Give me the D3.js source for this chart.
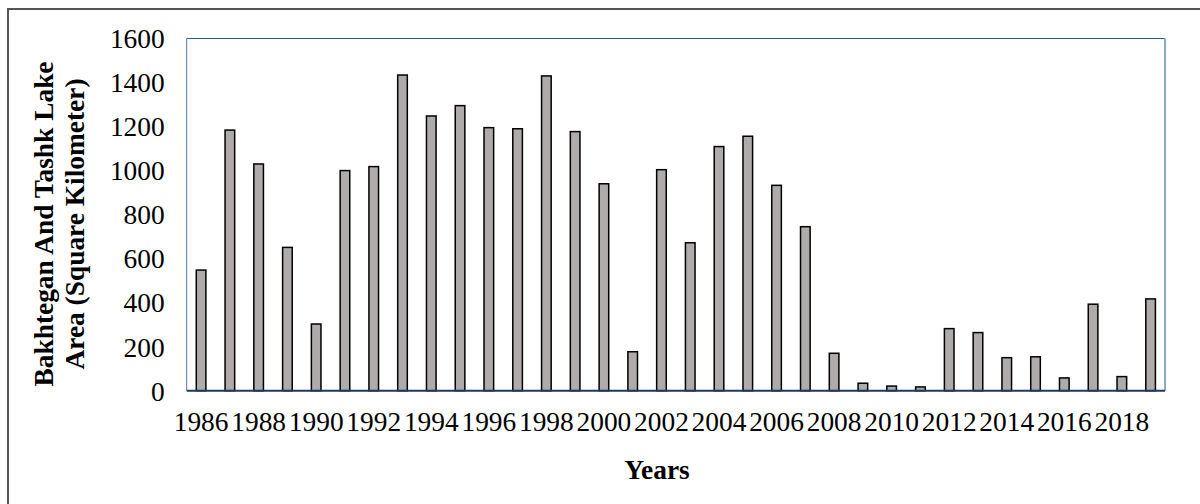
<!DOCTYPE html>
<html>
<head>
<meta charset="utf-8">
<script src="https://cdn.jsdelivr.net/npm/d3@7"></script>
<style>
  body { margin: 0; background: #fff; }
  text { font-family: "Liberation Serif", "Times New Roman", serif; fill: #000; }
</style>
</head>
<body>
<div id="chart"></div>
<script>
// Lake area per year (km²)
const years = [1986, 1987, 1988, 1989, 1990, 1991, 1992, 1993, 1994, 1995,
  1996, 1997, 1998, 1999, 2000, 2001, 2002, 2003, 2004, 2005,
  2006, 2007, 2008, 2009, 2010, 2011, 2012, 2013, 2014, 2015,
  2016, 2017, 2018, 2019];
const areas = [548, 1184, 1030, 651, 303, 1000, 1018, 1434, 1248, 1295,
  1195, 1190, 1430, 1177, 940, 177, 1004, 672, 1109, 1156,
  933, 745, 170, 34, 21, 17, 282, 264, 150, 154,
  58, 393, 64, 417];
const yTicks = [0, 200, 400, 600, 800, 1000, 1200, 1400, 1600];
const xTickYears = years.filter(y => (y - 1986) % 2 === 0 && y < 2019);

const width = 1200, height = 504;
const plot = { left: 186.7, right: 1165, top: 38.5, bottom: 390.7 };
const fontSize = 27.4;

const svg = d3.select('#chart').append('svg')
  .attr('width', width)
  .attr('height', height);

// Outer frame (only top and left edges are visible in the crop)
svg.append('rect')
  .attr('x', 8).attr('y', 9)
  .attr('width', 1300).attr('height', 600)
  .attr('fill', 'none')
  .attr('stroke', '#555')
  .attr('stroke-width', 2);

const x = d3.scaleBand()
  .domain(years)
  .range([plot.left, plot.right])
  .paddingInner(0.666)
  .paddingOuter(0.333);

const y = d3.scaleLinear()
  .domain([0, 1600])
  .range([plot.bottom, plot.top]);

// Plot area border
svg.append('line')
  .attr('x1', plot.left).attr('x2', plot.right)
  .attr('y1', plot.top).attr('y2', plot.top)
  .attr('stroke', '#2e5c8a').attr('stroke-width', 1.2);
svg.append('line')
  .attr('x1', plot.left).attr('x2', plot.left)
  .attr('y1', plot.top).attr('y2', plot.bottom)
  .attr('stroke', '#4f7bab').attr('stroke-width', 1);
svg.append('line')
  .attr('x1', plot.right).attr('x2', plot.right)
  .attr('y1', plot.top).attr('y2', plot.bottom)
  .attr('stroke', '#8ea9c8').attr('stroke-width', 2);

// Bars
svg.selectAll('.bar')
  .data(years)
  .enter()
  .append('rect')
  .attr('class', 'bar')
  .attr('x', d => x(d))
  .attr('y', (d, i) => y(areas[i]))
  .attr('width', x.bandwidth())
  .attr('height', (d, i) => y(0) - y(areas[i]))
  .attr('fill', '#afabab')
  .attr('stroke', '#000')
  .attr('stroke-width', 1.5);

// Baseline
svg.append('line')
  .attr('x1', plot.left).attr('x2', plot.right)
  .attr('y1', plot.bottom).attr('y2', plot.bottom)
  .attr('stroke', '#1f3864').attr('stroke-width', 2);

// Y tick labels
const yAxis = d3.axisLeft(y)
  .tickValues(yTicks)
  .tickFormat(d3.format('d'))
  .tickSize(0)
  .tickPadding(22);
svg.append('g')
  .attr('transform', `translate(${plot.left},0)`)
  .call(yAxis)
  .call(g => g.select('.domain').remove())
  .selectAll('text')
  .attr('font-family', '"Liberation Serif", "Times New Roman", serif')
  .attr('font-size', fontSize)
  .attr('fill', '#000')
  .attr('dy', '0.34em');

// X tick labels
const xAxis = d3.axisBottom(x).tickValues(xTickYears).tickSize(0).tickPadding(0);
svg.append('g')
  .attr('transform', `translate(0,${plot.bottom})`)
  .call(xAxis)
  .call(g => g.select('.domain').remove())
  .selectAll('text')
  .attr('font-family', '"Liberation Serif", "Times New Roman", serif')
  .attr('font-size', fontSize)
  .attr('fill', '#000')
  .attr('y', 40.5)
  .attr('dy', 0);

// Axis titles
svg.append('text')
  .attr('x', 657).attr('y', 479)
  .attr('text-anchor', 'middle')
  .attr('font-size', fontSize)
  .attr('font-weight', 'bold')
  .text('Years');

const yTitle = svg.append('text')
  .attr('transform', 'translate(53,224) rotate(-90)')
  .attr('text-anchor', 'middle')
  .attr('font-size', fontSize)
  .attr('font-weight', 'bold');
yTitle.append('tspan').attr('x', 0).attr('dy', 0).text('Bakhtegan And Tashk Lake');
yTitle.append('tspan').attr('x', 0).attr('dy', 31).text('Area (Square Kilometer)');
</script>
</body>
</html>
